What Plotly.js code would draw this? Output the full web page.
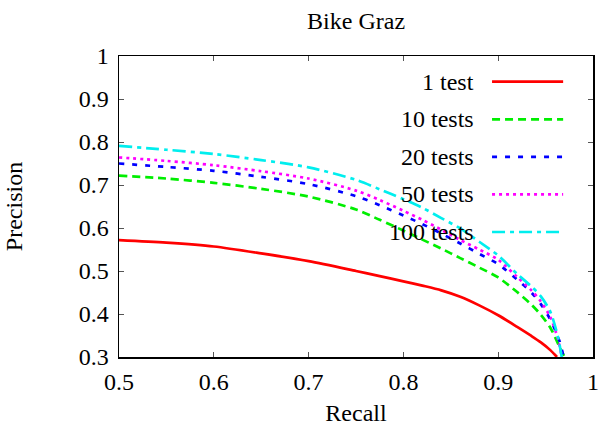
<!DOCTYPE html>
<html>
<head>
<meta charset="utf-8">
<script src="https://cdn.plot.ly/plotly-3.0.1.min.js"></script>
<style>html,body{margin:0;padding:0;background:#fff;}#chart{width:602px;height:434px;}</style>
</head>
<body>
<div id="chart"></div>
<script>
// ---- data ----
const seriesNames = ["1 test", "10 tests", "20 tests", "50 tests", "100 tests"];

const recall1   = [0.5, 0.55, 0.6, 0.65, 0.7, 0.75, 0.775, 0.8, 0.82, 0.84, 0.86, 0.88, 0.9, 0.92, 0.935, 0.945, 0.955, 0.962];
const prec1     = [0.572, 0.566, 0.557, 0.541, 0.523, 0.500, 0.488, 0.476, 0.466, 0.455, 0.440, 0.420, 0.397, 0.370, 0.349, 0.334, 0.316, 0.300];

const recall10  = [0.5, 0.55, 0.6, 0.65, 0.7, 0.75, 0.775, 0.8, 0.82, 0.84, 0.86, 0.88, 0.9, 0.92, 0.935, 0.945, 0.955, 0.965, 0.970];
const prec10    = [0.722, 0.715, 0.705, 0.691, 0.673, 0.643, 0.619, 0.594, 0.573, 0.552, 0.530, 0.508, 0.485, 0.451, 0.422, 0.398, 0.368, 0.322, 0.300];

const recall20  = [0.5, 0.55, 0.6, 0.65, 0.7, 0.75, 0.775, 0.8, 0.82, 0.84, 0.86, 0.88, 0.9, 0.92, 0.935, 0.945, 0.955, 0.965, 0.969];
const prec20    = [0.750, 0.742, 0.733, 0.719, 0.702, 0.674, 0.653, 0.629, 0.609, 0.587, 0.564, 0.540, 0.516, 0.480, 0.450, 0.423, 0.387, 0.335, 0.300];

const recall50  = [0.5, 0.55, 0.6, 0.65, 0.7, 0.75, 0.775, 0.8, 0.82, 0.84, 0.86, 0.88, 0.9, 0.92, 0.935, 0.945, 0.955, 0.963, 0.967];
const prec50    = [0.764, 0.756, 0.746, 0.732, 0.715, 0.687, 0.665, 0.640, 0.619, 0.596, 0.572, 0.550, 0.526, 0.486, 0.455, 0.429, 0.393, 0.342, 0.300];

const recall100 = [0.5, 0.55, 0.6, 0.65, 0.7, 0.75, 0.775, 0.8, 0.82, 0.84, 0.86, 0.88, 0.9, 0.92, 0.935, 0.945, 0.955, 0.963, 0.967];
const prec100   = [0.791, 0.782, 0.772, 0.758, 0.741, 0.712, 0.690, 0.667, 0.647, 0.623, 0.599, 0.568, 0.536, 0.493, 0.464, 0.441, 0.405, 0.347, 0.300];

const xTickVals = [0.5, 0.6, 0.7, 0.8, 0.9, 1];
const xTickText = ["0.5", "0.6", "0.7", "0.8", "0.9", "1"];
const yTickVals = [0.3, 0.4, 0.5, 0.6, 0.7, 0.8, 0.9, 1];
const yTickText = ["0.3", "0.4", "0.5", "0.6", "0.7", "0.8", "0.9", "1"];

// ---- styles ----
const colors = ["#ff0000", "#00ee00", "#0000ff", "#ff00ff", "#00eeee"];
const dashes = ["solid", "8px,5px", "5px,8px", "3px,4px", "13px,5px,4px,5px"];
const xs = [recall1, recall10, recall20, recall50, recall100];
const ys = [prec1, prec10, prec20, prec50, prec100];

const traces = seriesNames.map((n, i) => ({
  type: "scatter", mode: "lines", name: n,
  x: xs[i], y: ys[i],
  line: {color: colors[i], width: 2.7, dash: dashes[i], shape: "spline", smoothing: 0.8},
  showlegend: false
}));

const FONT = '"Liberation Serif", "Times New Roman", serif';

// manual legend (text right-aligned, sample to the right)
const annotations = [];
const shapes = [];
const legTop = 0.9146, legStep = 0.12483;
seriesNames.forEach((n, i) => {
  const yy = legTop - i * legStep;
  annotations.push({
    xref: "paper", yref: "paper", x: 0.7532, y: yy,
    xanchor: "right", yanchor: "middle", showarrow: false,
    text: n, font: {family: FONT, size: 24, color: "#000"}
  });
  shapes.push({
    type: "line", xref: "paper", yref: "paper",
    x0: 0.787, x1: 0.937, y0: yy, y1: yy,
    line: {color: colors[i], width: 2.7, dash: dashes[i]}
  });
});

const axisCommon = {
  showgrid: false, zeroline: false, showline: true, linecolor: "#000", linewidth: 1.5,
  mirror: "ticks", ticks: "inside", ticklen: 5, tickwidth: 1, tickcolor: "#555",
  tickfont: {family: FONT, size: 24, color: "#000"}
};

const layout = {
  width: 602, height: 434,
  margin: {l: 119, r: 9, t: 56, b: 77},
  paper_bgcolor: "#fff", plot_bgcolor: "#fff",
  font: {family: FONT, size: 24, color: "#000"},
  title: {text: "Bike Graz", font: {family: FONT, size: 24, color: "#000"},
          x: 0.5915, xanchor: "center", y: 0.952, yanchor: "middle", yref: "container"},
  xaxis: Object.assign({}, axisCommon, {
    range: [0.5, 1], tickvals: xTickVals, ticktext: xTickText, ticklabelstandoff: 3,
    title: {text: "Recall", font: {family: FONT, size: 24, color: "#000"}, standoff: 10}
  }),
  yaxis: Object.assign({}, axisCommon, {
    range: [0.3, 1], tickvals: yTickVals, ticktext: yTickText, ticklabelstandoff: 4,
    title: {text: "Precision", font: {family: FONT, size: 24, color: "#000"}, standoff: 49}
  }),
  annotations: annotations,
  shapes: shapes
};

Plotly.newPlot("chart", traces, layout, {displayModeBar: false, staticPlot: true});
</script>
</body>
</html>
